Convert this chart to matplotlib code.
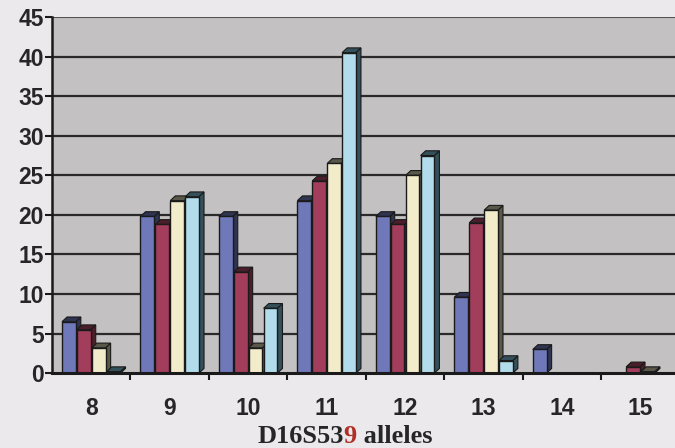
import matplotlib.pyplot as plt
from matplotlib.patches import Polygon

# Allele frequencies (%) per population
alleles = [8, 9, 10, 11, 12, 13, 14, 15]
series_a = [6.5, 19.8, 19.8, 21.8, 19.8, 9.6, 3.0, 0.0]
series_b = [5.5, 18.8, 12.8, 24.3, 18.8, 19.0, 0.0, 0.8]
series_c = [3.2, 21.8, 3.2, 26.5, 25.0, 20.6, 0.0, 0.2]
series_d = [0.2, 22.3, 8.2, 40.5, 27.5, 1.6, 0.0, 0.0]
yticks = [0, 5, 10, 15, 20, 25, 30, 35, 40, 45]

series = [series_a, series_b, series_c, series_d]
colors = ['#6f78b8', '#a23d5b', '#f2eccb', '#b2dbec']
sides = ['#2f3450', '#4a1e2a', '#5a5848', '#34505a']

fig = plt.figure(figsize=(6.75, 4.48), dpi=100)
fig.patch.set_facecolor('#ebe9ec')
ax = fig.add_axes([0.077, 0.167, 0.93, 0.795])
ax.set_facecolor('#c3c1c2')

ax.set_xlim(7.5, 15.5)
ax.set_ylim(0, 45)

for y in yticks[1:-1]:
    ax.axhline(y, color='#2a2a2a', lw=1.6, zorder=1)
ax.axhline(45, color='#555555', lw=0.8, zorder=1)

# clustered bars with a shallow 3-D side and top face
width = 0.175
pitch = 0.19
dx, dy = 0.065, 0.6
z = 2
for i, (vals, col, side) in enumerate(zip(series, colors, sides)):
    for x0, v in zip(alleles, vals):
        if v <= 0:
            continue
        left = x0 + (i - 1.5) * pitch - width / 2
        right = left + width
        ax.add_patch(Polygon([(right, 0), (right + dx, dy), (right + dx, v + dy), (right, v)],
                             closed=True, facecolor=side, edgecolor='#1a1a1a', lw=0.8, zorder=z))
        ax.add_patch(Polygon([(left, v), (left + dx, v + dy), (right + dx, v + dy), (right, v)],
                             closed=True, facecolor=side, edgecolor='#1a1a1a', lw=0.8, zorder=z))
        ax.bar(left, v, width=width, align='edge', color=col, edgecolor='#1a1a1a',
               lw=1.0, zorder=z + 0.5)

ax.set_yticks(yticks)
ax.set_xticks(alleles)
ax.set_xticks([a + 0.5 for a in alleles[:-1]], minor=True)
ax.tick_params(axis='x', which='major', length=0, pad=17)
ax.tick_params(axis='x', which='minor', length=5, width=1.5, color='#1a1a1a')
ax.tick_params(axis='y', length=5, width=1.5, color='#1a1a1a', pad=1)
for lab in ax.get_xticklabels() + ax.get_yticklabels():
    lab.set_fontfamily('Liberation Sans')
    lab.set_fontweight('bold')
    lab.set_fontsize(16.5)
    lab.set_color('#262626')

for s in ['top', 'right']:
    ax.spines[s].set_visible(False)
ax.spines['left'].set_linewidth(1.8)
ax.spines['left'].set_color('#1a1a1a')
ax.spines['bottom'].set_linewidth(2.2)
ax.spines['bottom'].set_color('#1a1a1a')

# x axis title with the red final digit
title_kw = dict(fontfamily='Liberation Serif', fontweight='bold', fontsize=19, ha='left')
ty = 0.012
t1 = fig.text(0.381, ty, 'D16S53', color='#262626', **title_kw)
fig.canvas.draw()
renderer = fig.canvas.get_renderer()
t2 = fig.text(t1.get_window_extent(renderer).x1 / fig.bbox.width, ty, '9',
              color='#b03028', **title_kw)
fig.text(t2.get_window_extent(renderer).x1 / fig.bbox.width, ty, ' alleles',
         color='#262626', **title_kw)

fig.savefig('out.png', dpi=100, facecolor=fig.get_facecolor())
